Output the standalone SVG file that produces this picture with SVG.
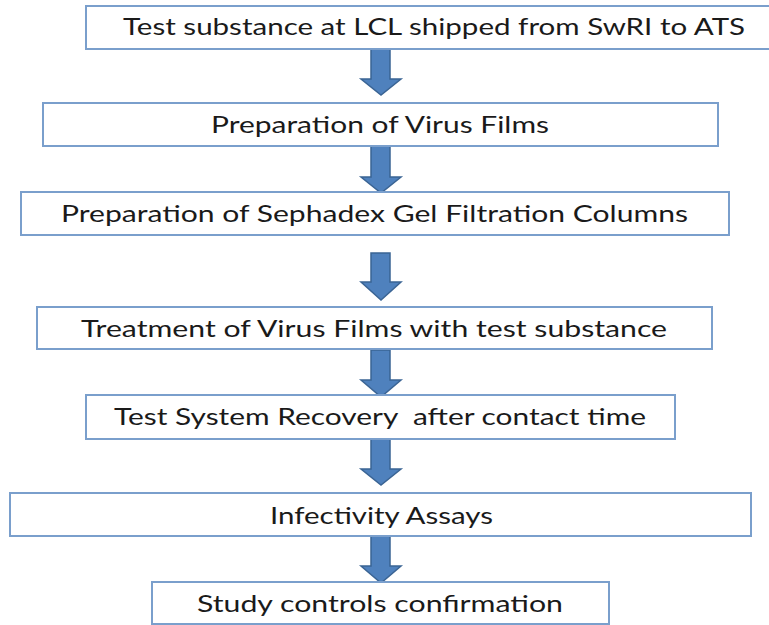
<svg xmlns="http://www.w3.org/2000/svg" width="769" height="625" viewBox="0 0 769 625">
<defs>
<style>
.box{fill:#ffffff;stroke:#7a9fcc;stroke-width:2}
.lbl{font-family:Lato,"Open Sans","Liberation Sans",sans-serif;font-size:23px;fill:#1a1a1a;text-anchor:middle}
.arr{fill:#4f81bd;stroke:#3a6494;stroke-width:1.5;stroke-linejoin:miter}
</style>
</defs>
<rect width="769" height="625" fill="#ffffff"/>
<g id="connectors">
<path class="arr" d="M371,48 H390 V79 H401 L381,95 L361,79 H371 Z"/>
<path class="arr" d="M371,146 H390 V177 H401 L381,193 L361,177 H371 Z"/>
<path class="arr" d="M371,253 H390 V282 H401 L381,300 L361,282 H371 Z"/>
<path class="arr" d="M371,350 H390 V380 H401 L381,397 L361,380 H371 Z"/>
<path class="arr" d="M371,439 H390 V469 H401 L381,485 L361,469 H371 Z"/>
<path class="arr" d="M371,536 H390 V566 H401 L381,583 L361,566 H371 Z"/>
</g>
<g id="n1"><rect class="box" x="86" y="6" width="700" height="43"/><text class="lbl" x="434" y="35" textLength="622" lengthAdjust="spacingAndGlyphs">Test substance at LCL shipped from SwRI to ATS</text></g>
<g id="n2"><rect class="box" x="43" y="103" width="675" height="43"/><text class="lbl" x="380" y="133" textLength="338" lengthAdjust="spacingAndGlyphs">Preparation of Virus Films</text></g>
<g id="n3"><rect class="box" x="21" y="192" width="708" height="43"/><text class="lbl" x="374.5" y="222" textLength="627" lengthAdjust="spacingAndGlyphs">Preparation of Sephadex Gel Filtration Columns</text></g>
<g id="n4"><rect class="box" x="37" y="307" width="675" height="42"/><text class="lbl" x="374" y="337" textLength="586" lengthAdjust="spacingAndGlyphs">Treatment of Virus Films with test substance</text></g>
<g id="n5"><rect class="box" x="86" y="395" width="589" height="44"/><text class="lbl" x="380" y="425" textLength="532" lengthAdjust="spacingAndGlyphs" xml:space="preserve">Test System Recovery  after contact time</text></g>
<g id="n6"><rect class="box" x="10" y="493" width="741" height="43"/><text class="lbl" x="381.5" y="524" textLength="223" lengthAdjust="spacingAndGlyphs">Infectivity Assays</text></g>
<g id="n7"><rect class="box" x="152" y="582" width="457" height="42"/><text class="lbl" x="380" y="612" textLength="366" lengthAdjust="spacingAndGlyphs">Study controls confirmation</text></g>
</svg>
